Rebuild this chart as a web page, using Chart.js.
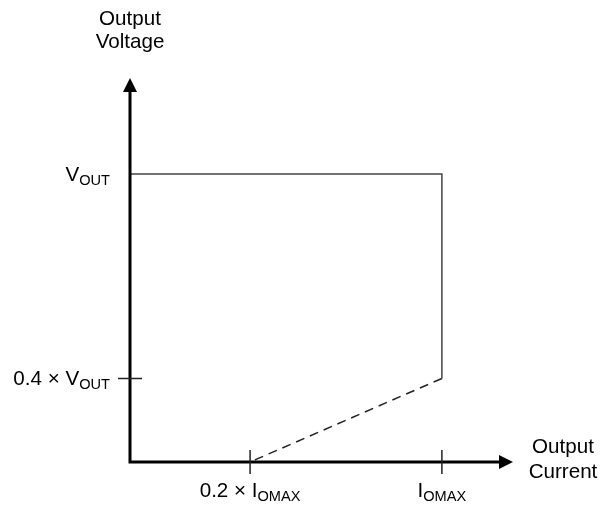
<!DOCTYPE html>
<html>
<head>
<meta charset="utf-8">
<script src="https://cdn.jsdelivr.net/npm/chart.js@4"></script>
<style>
  html, body { margin: 0; padding: 0; background: #fff; }
  #wrap { width: 600px; height: 508px; position: relative; }
</style>
</head>
<body>
<div id="wrap"><canvas id="chart"></canvas></div>
<script>
// values (IOMAX = 1, VOUT = 1, drawing is not to scale)
const limitCurrent = [0, 1, 1];
const limitVoltage = [1, 1, 0.29];
const foldCurrent = [1, 0.385];
const foldVoltage = [0.29, 0];

const xMax = 1.228;
const yMax = 1.333;

// tick labels: [main text, subscript]
const xTickValues = [0.385, 1];
const xTickLabels = [["0.2 × I", "OMAX"], ["I", "OMAX"]];
const yTickValues = [1, 0.29];
const yTickLabels = [["V", "OUT"], ["0.4 × V", "OUT"]];
const yTickMarks = [false, true];

const xTitle = ["Output", "Current"];
const yTitle = ["Output", "Voltage"];

const FONT = "Liberation Sans, Arial, sans-serif";
const MAIN = "20.6px " + FONT;
const SUB = "14.6px " + FONT;

function toPoints(xs, ys) {
  return xs.map((x, i) => ({ x: x, y: ys[i] }));
}

// text with subscript, align = left | right | center
function subText(ctx, parts, x, y, align) {
  ctx.font = MAIN;
  const w1 = ctx.measureText(parts[0]).width;
  ctx.font = SUB;
  const w2 = ctx.measureText(parts[1]).width;
  let left = x;
  if (align === "right") left = x - w1 - w2;
  if (align === "center") left = x - (w1 + w2) / 2;
  ctx.textAlign = "left";
  ctx.textBaseline = "alphabetic";
  ctx.font = MAIN;
  ctx.fillText(parts[0], left, y);
  ctx.font = SUB;
  ctx.fillText(parts[1], left + w1, y + 4);
}

// axes with arrows, ticks and labels
const axesPlugin = {
  id: "arrowAxes",
  afterDatasetsDraw(chart) {
    const ctx = chart.ctx;
    const xs = chart.scales.x;
    const ys = chart.scales.y;
    const x0 = xs.getPixelForValue(0);
    const y0 = ys.getPixelForValue(0);
    const xEnd = xs.getPixelForValue(xMax);
    const yEnd = ys.getPixelForValue(yMax);

    ctx.save();
    ctx.strokeStyle = "#000";
    ctx.fillStyle = "#000";
    ctx.lineWidth = 3;
    ctx.lineCap = "butt";
    ctx.beginPath();
    ctx.moveTo(x0, y0 + 1.5);
    ctx.lineTo(x0, yEnd + 12);
    ctx.moveTo(x0 - 1.5, y0);
    ctx.lineTo(xEnd - 12, y0);
    ctx.stroke();

    // arrowheads
    ctx.beginPath();
    ctx.moveTo(x0, yEnd);
    ctx.lineTo(x0 - 7, yEnd + 14);
    ctx.lineTo(x0 + 7, yEnd + 14);
    ctx.closePath();
    ctx.fill();
    ctx.beginPath();
    ctx.moveTo(xEnd, y0);
    ctx.lineTo(xEnd - 14, y0 - 7);
    ctx.lineTo(xEnd - 14, y0 + 7);
    ctx.closePath();
    ctx.fill();

    // tick marks
    ctx.lineWidth = 1.5;
    ctx.strokeStyle = "#222";
    ctx.beginPath();
    xTickValues.forEach(v => {
      const px = xs.getPixelForValue(v);
      ctx.moveTo(px, y0 - 12);
      ctx.lineTo(px, y0 + 12);
    });
    yTickValues.forEach((v, i) => {
      if (!yTickMarks[i]) return;
      const py = ys.getPixelForValue(v);
      ctx.moveTo(x0 - 12, py);
      ctx.lineTo(x0 + 12, py);
    });
    ctx.stroke();

    // tick labels
    ctx.fillStyle = "#000";
    xTickValues.forEach((v, i) => {
      subText(ctx, xTickLabels[i], xs.getPixelForValue(v), y0 + 35, "center");
    });
    yTickValues.forEach((v, i) => {
      subText(ctx, yTickLabels[i], x0 - 20, ys.getPixelForValue(v) + 7, "right");
    });

    // axis titles
    ctx.font = MAIN;
    ctx.textAlign = "center";
    ctx.textBaseline = "alphabetic";
    ctx.fillText(yTitle[0], x0, 25);
    ctx.fillText(yTitle[1], x0, 48);
    ctx.fillText(xTitle[0], xEnd + 50, y0 - 9);
    ctx.fillText(xTitle[1], xEnd + 50, y0 + 16);
    ctx.restore();
  }
};

const ctx = document.getElementById("chart").getContext("2d");
new Chart(ctx, {
  type: "scatter",
  data: {
    datasets: [
      {
        label: "limit",
        data: toPoints(limitCurrent, limitVoltage),
        showLine: true,
        borderColor: "#444",
        borderWidth: 1.5,
        pointRadius: 0,
        fill: false,
        tension: 0
      },
      {
        label: "foldback",
        data: toPoints(foldCurrent, foldVoltage),
        showLine: true,
        borderColor: "#222",
        borderWidth: 1.5,
        borderDash: [9, 6],
        pointRadius: 0,
        fill: false,
        tension: 0
      }
    ]
  },
  options: {
    responsive: true,
    maintainAspectRatio: false,
    animation: false,
    layout: { padding: { left: 130, right: 87, top: 78, bottom: 46 } },
    scales: {
      x: { type: "linear", min: 0, max: xMax, display: false },
      y: { type: "linear", min: 0, max: yMax, display: false }
    },
    plugins: {
      legend: { display: false },
      tooltip: { enabled: false }
    }
  },
  plugins: [axesPlugin]
});
</script>
</body>
</html>
